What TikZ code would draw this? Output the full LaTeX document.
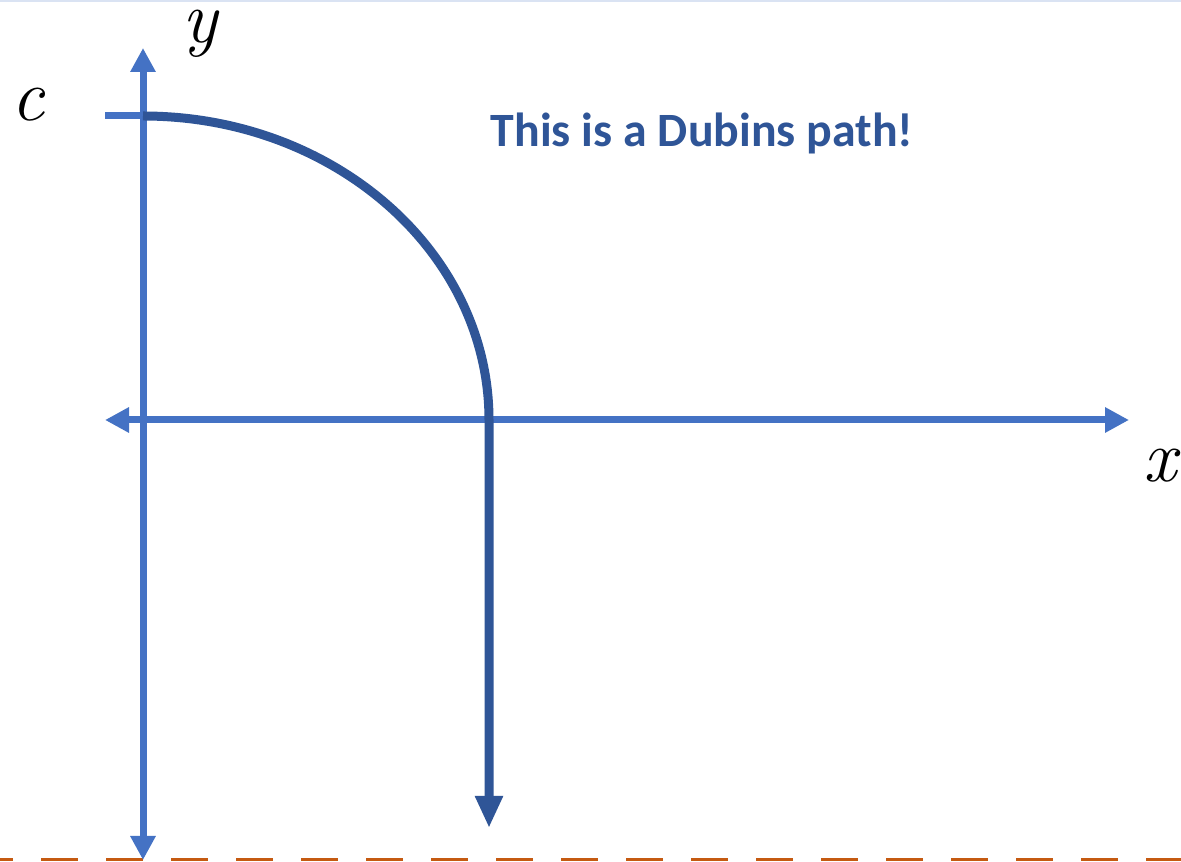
\documentclass[tikz,border=0pt]{standalone}
\usepackage{fontspec}
\usetikzlibrary{arrows.meta}
\newfontfamily\carlito{Carlito}
\definecolor{axisblue}{HTML}{4472C4}
\definecolor{pathblue}{HTML}{2F5597}
\definecolor{dashorange}{HTML}{C55A11}
\definecolor{topline}{HTML}{DAE3F3}
\begin{document}
\begin{tikzpicture}[x=1bp,y=1bp,
  axis/.style={draw=axisblue,line width=7bp,-{Triangle[width=24bp,length=24bp]}},
  dubins/.style={draw=pathblue,line width=9bp},
  mathlabel/.style={inner sep=0pt,font=\itshape\fontsize{74}{74}\selectfont}]
\useasboundingbox (0,0) rectangle (1181,862);
\fill[white] (0,0) rectangle (1181,862);
\draw[topline,line width=1.5bp] (0,861.2) -- (1181,861.2);
\draw[dashorange,line width=3bp,dash pattern=on 37bp off 28bp,dash phase=24bp] (0,2) -- (1181,2);
% axes
\coordinate (O) at (143,442);
\coordinate (ytop) at (143,814);
\coordinate (ybot) at (143,2);
\coordinate (xleft) at (105,442);
\coordinate (xright) at (1129,442);
\draw[axis] (O) -- (ytop);
\draw[axis] (O) -- (ybot);
\draw[axis] (O) -- (xleft);
\draw[axis] (O) -- (xright);
% tick at c
\coordinate (ctick) at (105,746);
\coordinate (cstart) at (143,746);
\draw[draw=axisblue,line width=7bp] (ctick) -- (cstart);
% Dubins path
\coordinate (turnend) at (489,442);
\coordinate (pathend) at (489,34);
\draw[dubins,-{Triangle[width=26bp,length=32bp]}] (cstart) arc[start angle=90,end angle=0,x radius=346,y radius=304] -- (pathend);
% labels
\node[mathlabel] (clab) at (28,757) {c};
\node[mathlabel] (ylab) at (200,828) {y};
\node[mathlabel] (xlab) at (1160,396) {x};
\node[inner sep=0pt,text=pathblue,font=\carlito\bfseries\fontsize{48}{48}\selectfont] (title) at (702,729) {This is a Dubins path!};
\end{tikzpicture}
\end{document}
